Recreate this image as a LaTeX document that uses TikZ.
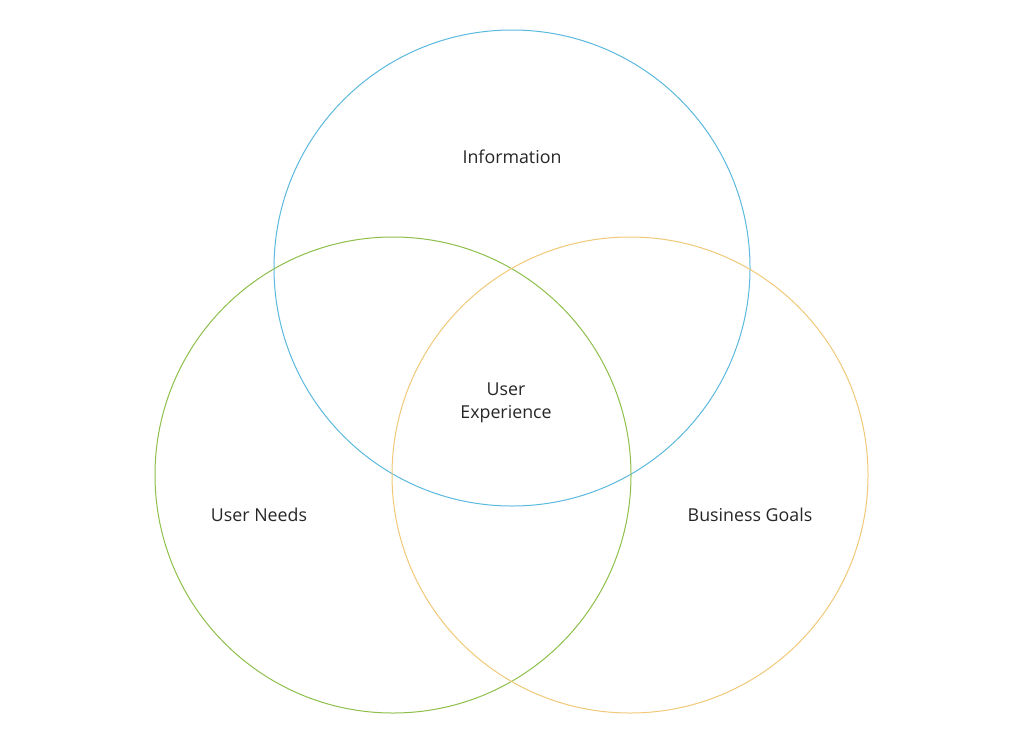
\documentclass[tikz,border=0pt]{standalone}
\usepackage{fontspec}
\setmainfont{Open Sans}
\definecolor{infoblue}{HTML}{5BB8DE}
\definecolor{needgreen}{HTML}{8DBF4A}
\definecolor{goalorange}{HTML}{F0C878}
\begin{document}
\begin{tikzpicture}[x=1pt,y=-1pt,line width=1pt,
    every node/.style={font=\fontsize{17.8}{22.5}\selectfont,text=black!85,align=center}]
        \useasboundingbox(0,0)rectangle(1024,744);
        \draw[infoblue](512,268)circle(238);
        \draw[needgreen](393,475)circle(238);
        \draw[goalorange](630,475)circle(238);
        \node(1)at(512,157){Information};
        \node(2)at(259,515){User Needs};
        \node(3)at(750,515){Business Goals};
        \node(4)at(506,403){User\\Experience};
    \end{tikzpicture}
\end{document}
